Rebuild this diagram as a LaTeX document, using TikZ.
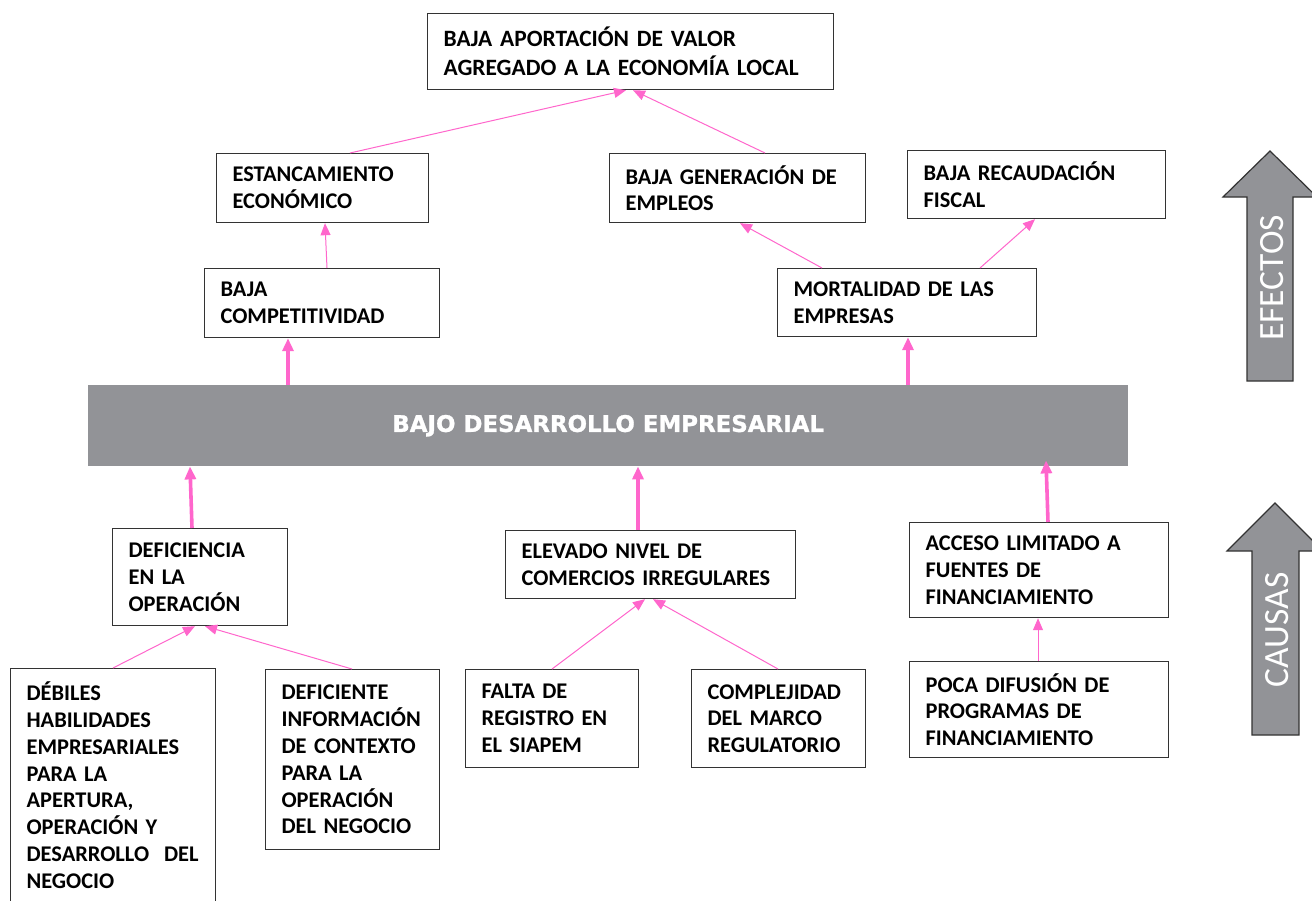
\documentclass[tikz,border=0pt]{standalone}
\usepackage{fontspec}
\setmainfont{Carlito}
\newfontfamily\heavyf{DejaVu Sans}[BoldFeatures={FakeBold=1.2}]
\usetikzlibrary{arrows.meta,calc}
\definecolor{pinkc}{HTML}{FF66CC}
\definecolor{grayc}{HTML}{929397}
\definecolor{boxc}{HTML}{333333}
\begin{document}
\begin{tikzpicture}[x=1pt,y=-1pt,
  box/.style={draw=boxc, line width=1.2pt, inner xsep=16pt, inner ysep=0pt, align=left, anchor=north west,
    font=\bfseries\fontsize{22.4}{26.8}\selectfont, text=black},
  pa/.style={draw=pinkc, line width=1pt, -{Triangle[length=12pt,width=10pt]}, pinkc},
  pb/.style={draw=pinkc, line width=3.6pt, -{Triangle[length=13pt,width=11pt]}, pinkc},
  bigarrow/.style={fill=grayc, draw=boxc, line width=1.2pt},
  arrowtext/.style={text=white, font=\fontsize{35.5}{36}\selectfont, rotate=90}]
\useasboundingbox (0,0) rectangle (1312,900);
\clip (0,0) rectangle (1312,900);
\fill[white] (0,0) rectangle (1312,900);

% effects
\node[box, minimum width=406, minimum height=76, text width=374, font=\bfseries\fontsize{23.4}{29}\selectfont] (top) at (427,13) {BAJA APORTACIÓN DE VALOR\\AGREGADO A LA ECONOMÍA LOCAL};
\node[box, minimum width=212, minimum height=69, text width=180] (est) at (216,153) {ESTANCAMIENTO\\ECONÓMICO};
\node[box, minimum width=256, minimum height=69, text width=224] (gen) at (609,153) {BAJA GENERACIÓN DE\\EMPLEOS};
\node[box, minimum width=258, minimum height=68, text width=226] (rec) at (907,150) {BAJA RECAUDACIÓN\\FISCAL};
\node[box, minimum width=235, minimum height=69, text width=203] (comp) at (204,268) {BAJA\\COMPETITIVIDAD};
\node[box, minimum width=259, minimum height=68, text width=227] (mort) at (777,268) {MORTALIDAD DE LAS\\EMPRESAS};

% central problem
\node[fill=grayc, minimum width=1040, minimum height=81, inner sep=0pt, anchor=north west,
  text=white, font=\heavyf\bfseries\fontsize{22.9}{24}\selectfont] (bar) at (88,385) {BAJO DESARROLLO EMPRESARIAL};

% causes
\node[box, minimum width=175, minimum height=97, text width=143] (def) at (112,528) {DEFICIENCIA\\EN LA\\OPERACIÓN};
\node[box, minimum width=290, minimum height=68, text width=258] (elev) at (505,530) {ELEVADO NIVEL DE\\COMERCIOS~IRREGULARES};
\node[box, minimum width=259, minimum height=95, text width=227] (acc) at (909,522) {ACCESO LIMITADO A\\FUENTES DE\\FINANCIAMIENTO};
\node[box, minimum width=205, minimum height=233, text width=173] (deb) at (10,668) {DÉBILES\\HABILIDADES\\EMPRESARIALES\\PARA LA\\APERTURA,\\OPERACIÓN~Y\\DESARROLLO~~DEL\\NEGOCIO};
\node[box, minimum width=174, minimum height=180, text width=142] (dinf) at (265,669) {DEFICIENTE\\INFORMACIÓN\\DE~CONTEXTO\\PARA LA\\OPERACIÓN\\DEL~NEGOCIO};
\node[box, minimum width=173, minimum height=98, text width=141] (falta) at (465,669) {FALTA DE\\REGISTRO~EN\\EL SIAPEM};
\node[box, minimum width=174, minimum height=98, text width=142] (compl) at (691,669) {COMPLEJIDAD\\DEL MARCO\\REGULATORIO};
\node[box, minimum width=259, minimum height=96, text width=227] (poca) at (909,661) {POCA DIFUSIÓN DE\\PROGRAMAS DE\\FINANCIAMIENTO};

% connectors (effects)
\draw[pa] ($(est.north west)+(134,0)$) -- ($(top.south west)+(199,0)$);
\draw[pa] ($(gen.north west)+(156,0)$) -- ($(top.south west)+(206,0)$);
\draw[pa] ($(comp.north west)+(123,0)$) -- ($(est.south west)+(109,0)$);
\draw[pa] ($(mort.north west)+(45,0)$) -- ($(gen.south west)+(131,0)$);
\draw[pa] ($(mort.north west)+(203,0)$) -- ($(rec.south west)+(128,0)$);
\draw[pb] ($(bar.north west)+(200,0)$) -- ($(comp.south west)+(84,0)$);
\draw[pb] ($(bar.north west)+(820,0)$) -- ($(mort.south west)+(131,0)$);

% connectors (causes)
\draw[pb] ($(def.north west)+(80,0)$) -- ($(bar.south west)+(102,0)$);
\draw[pb] ($(elev.north west)+(133,0)$) -- ($(bar.south west)+(550,0)$);
\draw[pb] ($(acc.north west)+(139,0)$) -- ($(bar.south west)+(958,-6)$);
\draw[pa] ($(deb.north west)+(103,0)$) -- ($(def.south west)+(83,0)$);
\draw[pa] ($(dinf.north west)+(87,0)$) -- ($(def.south west)+(93,0)$);
\draw[pa] ($(falta.north west)+(87,0)$) -- ($(elev.south west)+(140,0)$);
\draw[pa] ($(compl.north west)+(87,0)$) -- ($(elev.south west)+(148,0)$);
\draw[pa] ($(poca.north west)+(129,0)$) -- ($(acc.south west)+(129,0)$);

% side arrows
\draw[bigarrow] (1270,151) -- (1317,197) -- (1293,197) -- (1293,381) -- (1247,381) -- (1247,197) -- (1223,197) -- cycle;
\node[arrowtext] (efectos) at (1272,278) {EFECTOS};
\draw[bigarrow] (1275,503) -- (1323,551) -- (1299,551) -- (1299,735) -- (1252,735) -- (1252,551) -- (1227,551) -- cycle;
\node[arrowtext] (causas) at (1277,630) {CAUSAS};
\end{tikzpicture}
\end{document}
